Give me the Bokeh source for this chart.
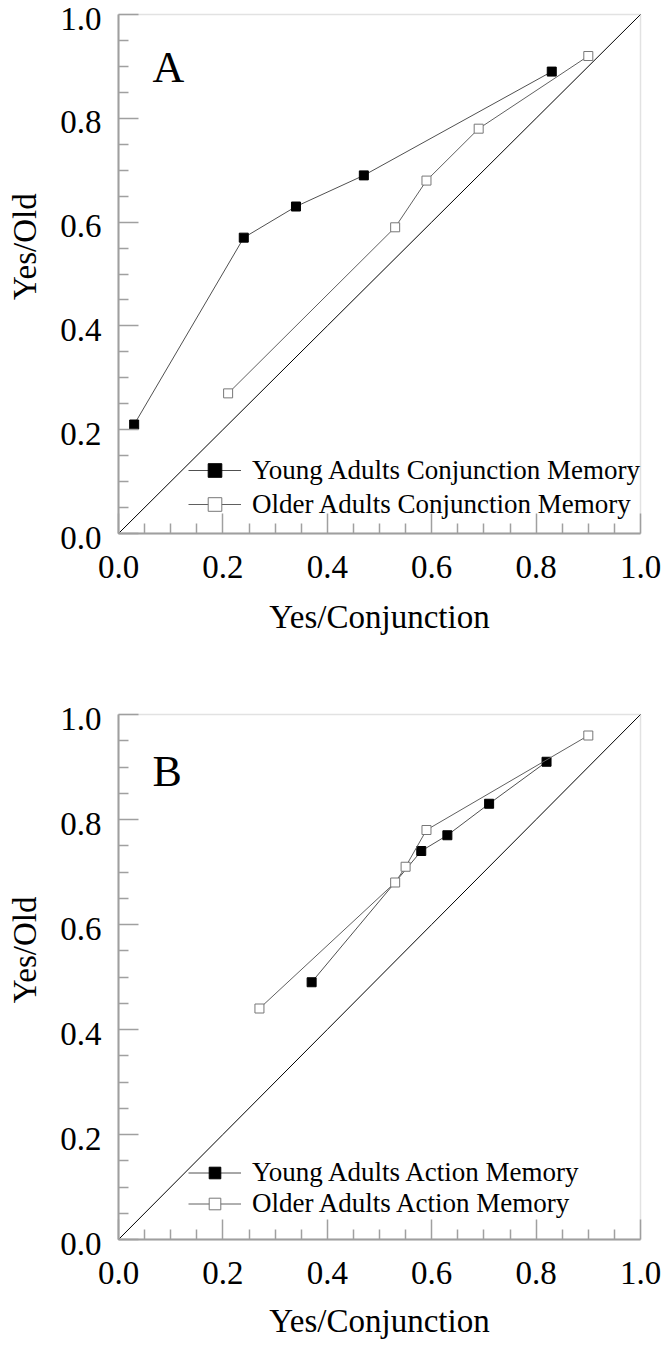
import math
from bokeh.plotting import figure
from bokeh.models import (Range1d, FixedTicker, LinearAxis, Label, Legend,
                          LegendItem, BoxAnnotation)
from bokeh.layouts import column
from bokeh.embed import file_html
from bokeh.resources import INLINE

FONT = "'Liberation Serif', 'Times New Roman', serif"

# ---- data ----
a_young_x = [0.03, 0.24, 0.34, 0.47, 0.83]
a_young_y = [0.21, 0.57, 0.63, 0.69, 0.89]
a_older_x = [0.21, 0.53, 0.59, 0.69, 0.90]
a_older_y = [0.27, 0.59, 0.68, 0.78, 0.92]

b_young_x = [0.37, 0.58, 0.63, 0.71, 0.82]
b_young_y = [0.49, 0.74, 0.77, 0.83, 0.91]
b_older_x = [0.27, 0.53, 0.55, 0.59, 0.90]
b_older_y = [0.44, 0.68, 0.71, 0.78, 0.96]

tick_vals = [0.0, 0.2, 0.4, 0.6, 0.8, 1.0]
tick_labels = ["0.0", "0.2", "0.4", "0.6", "0.8", "1.0"]
minor_vals = [round(t + d, 2) for t in tick_vals[:-1] for d in (0.05, 0.10, 0.15)]

x_label = "Yes/Conjunction"
y_label = "Yes/Old"

# ---- layout (pixels) ----
FIG_W = 664
AX_LEFT = 118      # x pixel of value 0
AX_W = 522         # pixels per unit in x
GREY = "#a0a0a0"


def panel(letter, yx, yy, ox, oy, young_lab, older_lab,
          fig_h, y0_px, unit_h, leg_loc, leg_h, letter_y, xlab_off):
    # y0_px: pixel (from figure top) of value 0; unit_h: pixels per unit
    x_rng = Range1d(-AX_LEFT / AX_W, (FIG_W - AX_LEFT) / AX_W)
    y_rng = Range1d(-(fig_h - y0_px) / unit_h, y0_px / unit_h)
    p = figure(frame_width=FIG_W, frame_height=fig_h, x_range=x_rng, y_range=y_rng,
               output_backend="svg", toolbar_location=None,
               min_border=0, min_border_left=0, min_border_right=0,
               min_border_top=0, min_border_bottom=0,
               background_fill_color="white", border_fill_color="white",
               outline_line_color=None)
    p.grid.visible = False

    def style(ax, ticks, length, line=True):
        ax.ticker = FixedTicker(ticks=[], minor_ticks=ticks)
        ax.fixed_location = 0
        ax.bounds = (0, 1)
        ax.axis_line_color = GREY if line else None
        ax.axis_line_width = 2
        ax.major_tick_line_color = None
        ax.major_tick_in = 0
        ax.major_tick_out = 0
        ax.minor_tick_line_color = GREY
        ax.minor_tick_line_width = 1.5
        ax.minor_tick_in = length
        ax.minor_tick_out = 0
        ax.major_label_standoff = 0

    style(p.xaxis[0], minor_vals, 10)
    style(p.yaxis[0], minor_vals, 10)
    xmaj = LinearAxis()
    ymaj = LinearAxis()
    style(xmaj, tick_vals, 20, line=False)
    style(ymaj, tick_vals, 20, line=False)
    p.add_layout(xmaj, "below")
    p.add_layout(ymaj, "left")

    # plot box
    p.add_layout(BoxAnnotation(left=0, right=1, bottom=0, top=1, fill_alpha=0,
                               line_color=GREY, line_width=1.5))

    # tick labels
    for t, s in zip(tick_vals, tick_labels):
        p.add_layout(Label(x=t, y=0, text=s, y_offset=-33, text_align="center",
                           text_baseline="middle", text_font=FONT,
                           text_font_size="33px", text_color="black"))
        p.add_layout(Label(x=0, y=t, text=s, x_offset=-17, y_offset=-4,
                           text_align="right", text_baseline="middle",
                           text_font=FONT, text_font_size="33px",
                           text_color="black"))
    # axis titles
    p.add_layout(Label(x=0.5, y=0, text=x_label, y_offset=-xlab_off,
                       text_align="center", text_baseline="alphabetic",
                       text_font=FONT, text_font_size="33px", text_color="black"))
    p.add_layout(Label(x=0, y=0.45, text=y_label, x_offset=-94, angle=math.pi / 2,
                       text_align="left", text_baseline="alphabetic",
                       text_font=FONT, text_font_size="33px", text_color="black"))

    # identity line
    p.line(tick_vals, tick_vals, line_color="black", line_width=1)

    l1 = p.line(yx, yy, line_color="#505050", line_width=1)
    s1 = p.scatter(yx, yy, marker="square", size=9, fill_color="black",
                   line_color="black")
    l2 = p.line(ox, oy, line_color="#606060", line_width=1)
    s2 = p.scatter(ox, oy, marker="square", size=9, fill_color="white",
                   line_color="#777777", line_width=1)

    leg = Legend(items=[LegendItem(label=young_lab, renderers=[l1, s1]),
                        LegendItem(label=older_lab, renderers=[l2, s2])],
                 location=leg_loc, border_line_color=None,
                 background_fill_alpha=0, padding=0, margin=0, spacing=0,
                 glyph_width=53, glyph_height=leg_h, label_height=leg_h,
                 label_standoff=11, label_text_font=FONT,
                 label_text_font_size="27px", label_text_color="black")
    p.add_layout(leg)

    p.add_layout(Label(x=0.065, y=letter_y, text=letter, text_font=FONT,
                       text_font_size="44px", text_baseline="alphabetic",
                       text_color="black"))
    return p


pA = panel("A", a_young_x, a_young_y, a_older_x, a_older_y,
           "Young Adults Conjunction Memory", "Older Adults Conjunction Memory",
           658, 533, 519, (188, 137), 34, 0.898, 83)
pB = panel("B", b_young_x, b_young_y, b_older_x, b_older_y,
           "Young Adults Action Memory", "Older Adults Action Memory",
           685, 1239 - 658, 525, (188, 124), 29, 0.891, 81)

layout = column(pA, pB)
open("out.html", "w").write(file_html(layout, INLINE))
